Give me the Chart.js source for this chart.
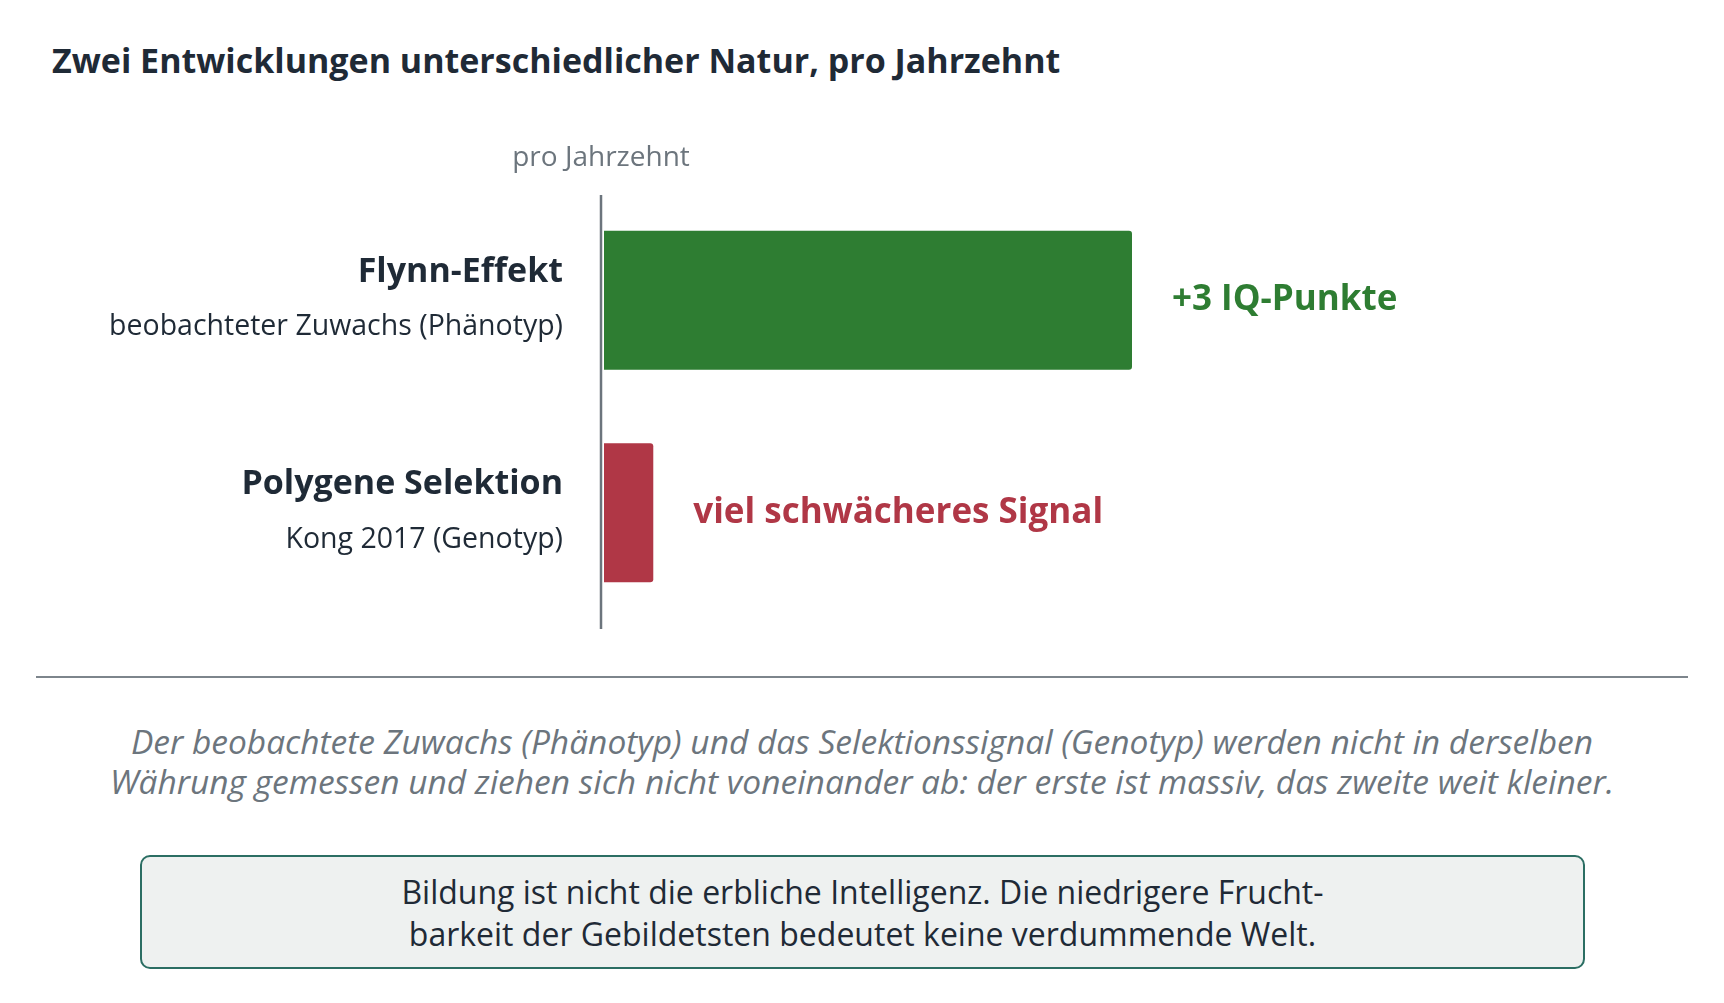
<!DOCTYPE html>
<html>
<head>
<meta charset="utf-8">
<script src="https://cdn.jsdelivr.net/npm/chart.js@4/dist/chart.umd.min.js"></script>
<style>
  html, body { margin: 0; padding: 0; background: #ffffff; }
  body { width: 1724px; height: 1003px; position: relative; overflow: hidden; font-family: "Open Sans", Lato, sans-serif; }
  #title { position: absolute; left: 52px; top: 37px; font-size: 34px; line-height: 46px; font-weight: 700; color: #1f2a36; white-space: nowrap; }
  #chartWrap { position: absolute; left: 0; top: 120px; width: 1724px; height: 530px; }
  #rule { position: absolute; left: 36px; top: 676px; width: 1652px; height: 2px; background: #7d858c; }
  #caption { position: absolute; left: 0; top: 721px; width: 1724px; text-align: center; font-style: italic; font-size: 33.5px; line-height: 40px; color: #6c757d; white-space: nowrap; }
  #box { position: absolute; left: 140px; top: 855px; width: 1445px; height: 114px; border: 2px solid #2b6e63; border-radius: 10px; background: #eef1f0; box-sizing: border-box; }
  #boxText { position: absolute; left: 0; top: 14px; width: 100%; text-align: center; font-size: 32px; line-height: 42px; color: #1f2a36; white-space: nowrap; }
</style>
</head>
<body>
<div id="title"></div>
<div id="chartWrap"><canvas id="c" width="1724" height="530"></canvas></div>
<div id="rule"></div>
<div id="caption"></div>
<div id="box"><div id="boxText"></div></div>
<script>
const titleText = "Zwei Entwicklungen unterschiedlicher Natur, pro Jahrzehnt";
const axisLabel = "pro Jahrzehnt";
const categories = ["Flynn-Effekt", "Polygene Selektion"];
const subLabels = ["beobachteter Zuwachs (Phänotyp)", "Kong 2017 (Genotyp)"];
const values = [3, 0.28];
const valueLabels = ["+3 IQ-Punkte", "viel schwächeres Signal"];
const barColors = ["#2e7d32", "#b03746"];
const captionLines = [
  "Der beobachtete Zuwachs (Phänotyp) und das Selektionssignal (Genotyp) werden nicht in derselben",
  "Währung gemessen und ziehen sich nicht voneinander ab: der erste ist massiv, das zweite weit kleiner."
];
const boxLines = [
  "Bildung ist nicht die erbliche Intelligenz.  Die niedrigere Frucht-",
  "barkeit der Gebildetsten bedeutet keine verdummende Welt."
];

document.getElementById('title').textContent = titleText;
document.getElementById('caption').innerHTML = captionLines.join('<br>');
document.getElementById('boxText').innerHTML = boxLines.join('<br>');

const FONT = '"Open Sans", Lato, sans-serif';

const labelPlugin = {
  id: 'labels',
  afterDatasetsDraw(chart) {
    const ctx = chart.ctx;
    const x = chart.scales.x, y = chart.scales.y;
    const x0 = x.getPixelForValue(0);
    ctx.save();
    ctx.strokeStyle = '#6c757d';
    ctx.lineWidth = 2.5;
    ctx.beginPath();
    ctx.moveTo(x0 - 3, chart.chartArea.top + 1);
    ctx.lineTo(x0 - 3, chart.chartArea.bottom + 10);
    ctx.stroke();
    ctx.fillStyle = '#6c757d';
    ctx.font = '28px ' + FONT;
    ctx.textAlign = 'center';
    ctx.textBaseline = 'middle';
    ctx.fillText(axisLabel, x0 - 3, chart.chartArea.top - 36);
    categories.forEach((cat, i) => {
      const cy = y.getPixelForValue(i);
      ctx.textAlign = 'right';
      ctx.fillStyle = '#1f2a36';
      ctx.font = 'bold 34px ' + FONT;
      ctx.fillText(cat, x0 - 41, cy - 28);
      ctx.font = '28.5px ' + FONT;
      ctx.fillText(subLabels[i], x0 - 41, cy + 27);
      const meta = chart.getDatasetMeta(0).data[i];
      ctx.textAlign = 'left';
      ctx.fillStyle = barColors[i];
      ctx.font = 'bold 35px ' + FONT;
      ctx.fillText(valueLabels[i], meta.x + 40, cy);
    });
    ctx.restore();
  }
};

new Chart(document.getElementById('c'), {
  type: 'bar',
  data: {
    labels: categories,
    datasets: [{
      data: values,
      backgroundColor: barColors,
      borderWidth: 0,
      borderRadius: 3,
      borderSkipped: 'start',
      barPercentage: 0.655,
      categoryPercentage: 1.0
    }]
  },
  options: {
    indexAxis: 'y',
    responsive: false,
    animation: false,
    events: [],
    layout: { padding: { left: 604, right: 240, top: 74, bottom: 31 } },
    plugins: { legend: { display: false }, title: { display: false }, tooltip: { enabled: false } },
    scales: {
      x: { display: false, min: 0, max: 5 },
      y: { display: false }
    }
  },
  plugins: [labelPlugin]
});
</script>
</body>
</html>
